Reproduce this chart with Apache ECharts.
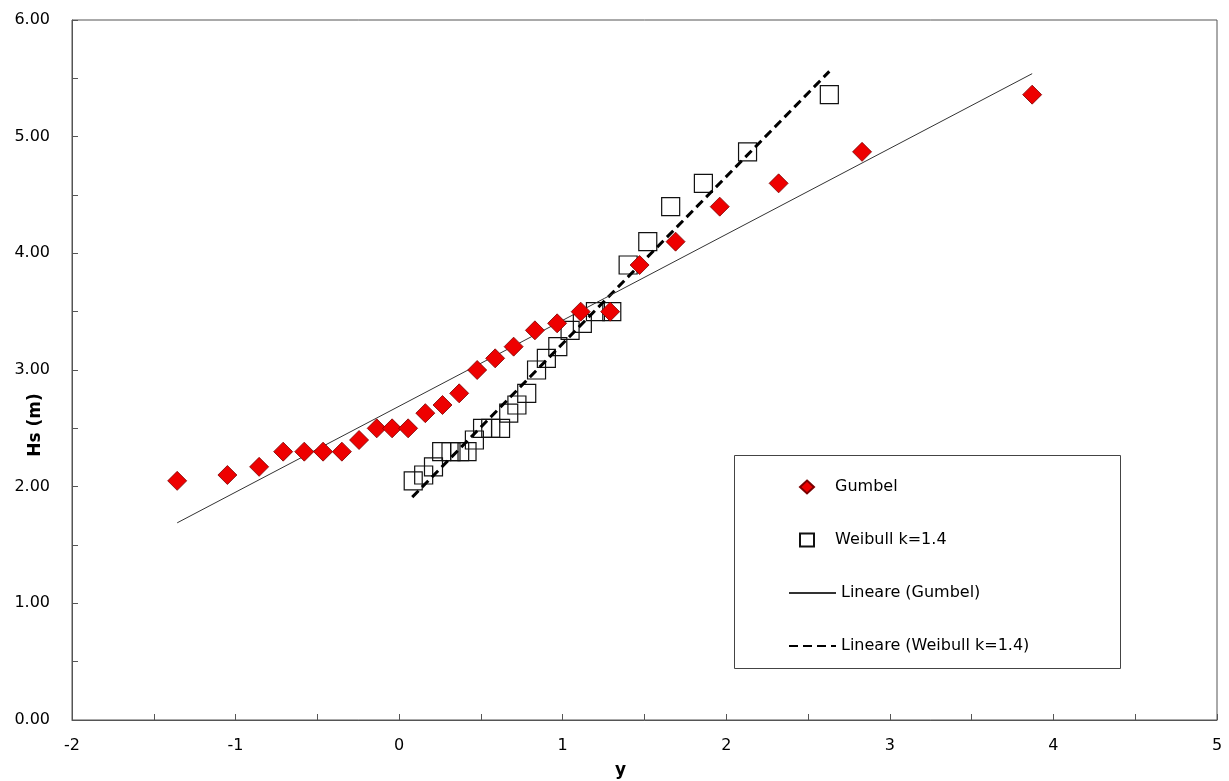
<!DOCTYPE html>
<html>
<head>
<meta charset="utf-8">
<script src="https://cdn.jsdelivr.net/npm/echarts@6/dist/echarts.min.js"></script>
<style>
html,body{margin:0;padding:0;background:#fff;}
#chart{width:1229px;height:781px;}
</style>
</head>
<body>
<div id="chart"></div>
<script>
// ---- data ----
const gumbelX = [-1.357, -1.05, -0.856, -0.709, -0.58, -0.465, -0.35, -0.245, -0.137, -0.043, 0.055, 0.16, 0.265, 0.367, 0.477, 0.587, 0.70, 0.83, 0.966, 1.11, 1.29, 1.47, 1.69, 1.96, 2.32, 2.83, 3.87];
const gumbelY = [2.05, 2.10, 2.17, 2.30, 2.30, 2.30, 2.30, 2.40, 2.50, 2.50, 2.50, 2.63, 2.70, 2.80, 3.00, 3.10, 3.20, 3.34, 3.40, 3.50, 3.50, 3.90, 4.10, 4.40, 4.60, 4.87, 5.36];
const weibullX = [0.086, 0.15, 0.21, 0.26, 0.317, 0.37, 0.415, 0.46, 0.51, 0.56, 0.62, 0.67, 0.72, 0.78, 0.84, 0.90, 0.97, 1.045, 1.12, 1.20, 1.30, 1.40, 1.52, 1.66, 1.86, 2.13, 2.63];
const weibullY = [2.05, 2.10, 2.17, 2.30, 2.30, 2.30, 2.30, 2.40, 2.50, 2.50, 2.50, 2.63, 2.70, 2.80, 3.00, 3.10, 3.20, 3.34, 3.40, 3.50, 3.50, 3.90, 4.10, 4.40, 4.60, 4.87, 5.36];
const gumbelFitX = [-1.357, 3.87];
const gumbelFitY = [1.69, 5.54];
const weibullFitX = [0.08, 2.63];
const weibullFitY = [1.91, 5.56];
const seriesNames = ['Gumbel', 'Weibull k=1.4', 'Lineare (Gumbel)', 'Lineare (Weibull k=1.4)'];
const xTitle = 'y';
const yTitle = 'Hs (m)';

const zip = (a, b) => a.map((v, i) => [v, b[i]]);
const FONT = 'DejaVu Sans';

const chart = echarts.init(document.getElementById('chart'), null, {renderer: 'canvas'});
chart.setOption({
  backgroundColor: '#ffffff',
  animation: false,
  textStyle: {fontFamily: FONT, color: '#000'},
  grid: {left: 72, right: 12, top: 20, bottom: 61, containLabel: false, outerBoundsMode: 'none',
         show: true, borderColor: '#555', borderWidth: 1, backgroundColor: 'transparent'},
  xAxis: {
    type: 'value', min: -2, max: 5, interval: 0.5,
    name: xTitle, nameLocation: 'middle', nameGap: 42, nameMoveOverlap: false,
    nameTextStyle: {fontFamily: FONT, fontSize: 17, fontWeight: 'bold', color: '#000', padding: [0, 48, 0, 0]},
    axisLine: {show: true, onZero: false, lineStyle: {color: '#555', width: 1}},
    axisTick: {show: true, inside: true, length: 6, lineStyle: {color: '#555'}},
    splitLine: {show: false},
    axisLabel: {
      margin: 18, fontFamily: FONT, fontSize: 16, color: '#000',
      formatter: v => (Math.abs(v - Math.round(v)) < 1e-9 ? String(Math.round(v)) : '')
    }
  },
  yAxis: {
    type: 'value', min: 0, max: 6, interval: 0.5,
    name: yTitle, nameLocation: 'middle', nameGap: 28, nameMoveOverlap: false,
    nameTextStyle: {fontFamily: FONT, fontSize: 17, fontWeight: 'bold', color: '#000', padding: [0, 110, 0, 0]},
    axisLine: {show: true, onZero: false, lineStyle: {color: '#555', width: 1}},
    axisTick: {show: true, inside: true, length: 6, lineStyle: {color: '#555'}},
    splitLine: {show: false},
    axisLabel: {
      margin: 22, fontFamily: FONT, fontSize: 16, color: '#000',
      formatter: v => (Math.abs(v - Math.round(v)) < 1e-9 ? v.toFixed(2) : '')
    }
  },
  legend: [
    {
      data: seriesNames.slice(0, 2),
      orient: 'vertical',
      left: 794, top: 474,
      itemWidth: 14, itemHeight: 13, itemGap: 37,
      selectedMode: false,
      textStyle: {fontFamily: FONT, fontSize: 16, color: '#000', padding: [0, 0, 0, 16]}
    },
    {
      data: seriesNames.slice(2),
      orient: 'vertical',
      left: 783, top: 580,
      itemWidth: 47, itemHeight: 13, itemGap: 37,
      selectedMode: false,
      itemStyle: {opacity: 0},
      textStyle: {fontFamily: FONT, fontSize: 16, color: '#000'}
    }
  ],
  graphic: [{
    type: 'rect', left: 734, top: 455, z: 100,
    shape: {width: 386, height: 213},
    style: {fill: 'transparent', stroke: '#444', lineWidth: 1}
  }],
  series: [
    {
      name: seriesNames[1], type: 'scatter', symbol: 'rect', symbolSize: 18, z: 2,
      itemStyle: {color: 'rgba(255,255,255,0)', borderColor: '#111', borderWidth: 1.2, opacity: 1},
      data: zip(weibullX, weibullY)
    },
    {
      name: seriesNames[3], type: 'line', symbol: 'none', showSymbol: false, z: 3,
      lineStyle: {color: '#000', width: 3, type: [9, 5]},
      itemStyle: {color: '#000'},
      data: zip(weibullFitX, weibullFitY)
    },
    {
      name: seriesNames[2], type: 'line', symbol: 'none', showSymbol: false, z: 3,
      lineStyle: {color: '#333', width: 1},
      itemStyle: {color: '#333'},
      data: zip(gumbelFitX, gumbelFitY)
    },
    {
      name: seriesNames[0], type: 'scatter', symbol: 'diamond', symbolSize: 19, z: 4,
      itemStyle: {color: '#ee0000', borderColor: '#7a0000', borderWidth: 0.8, opacity: 1},
      data: zip(gumbelX, gumbelY)
    }
  ]
});
</script>
</body>
</html>
